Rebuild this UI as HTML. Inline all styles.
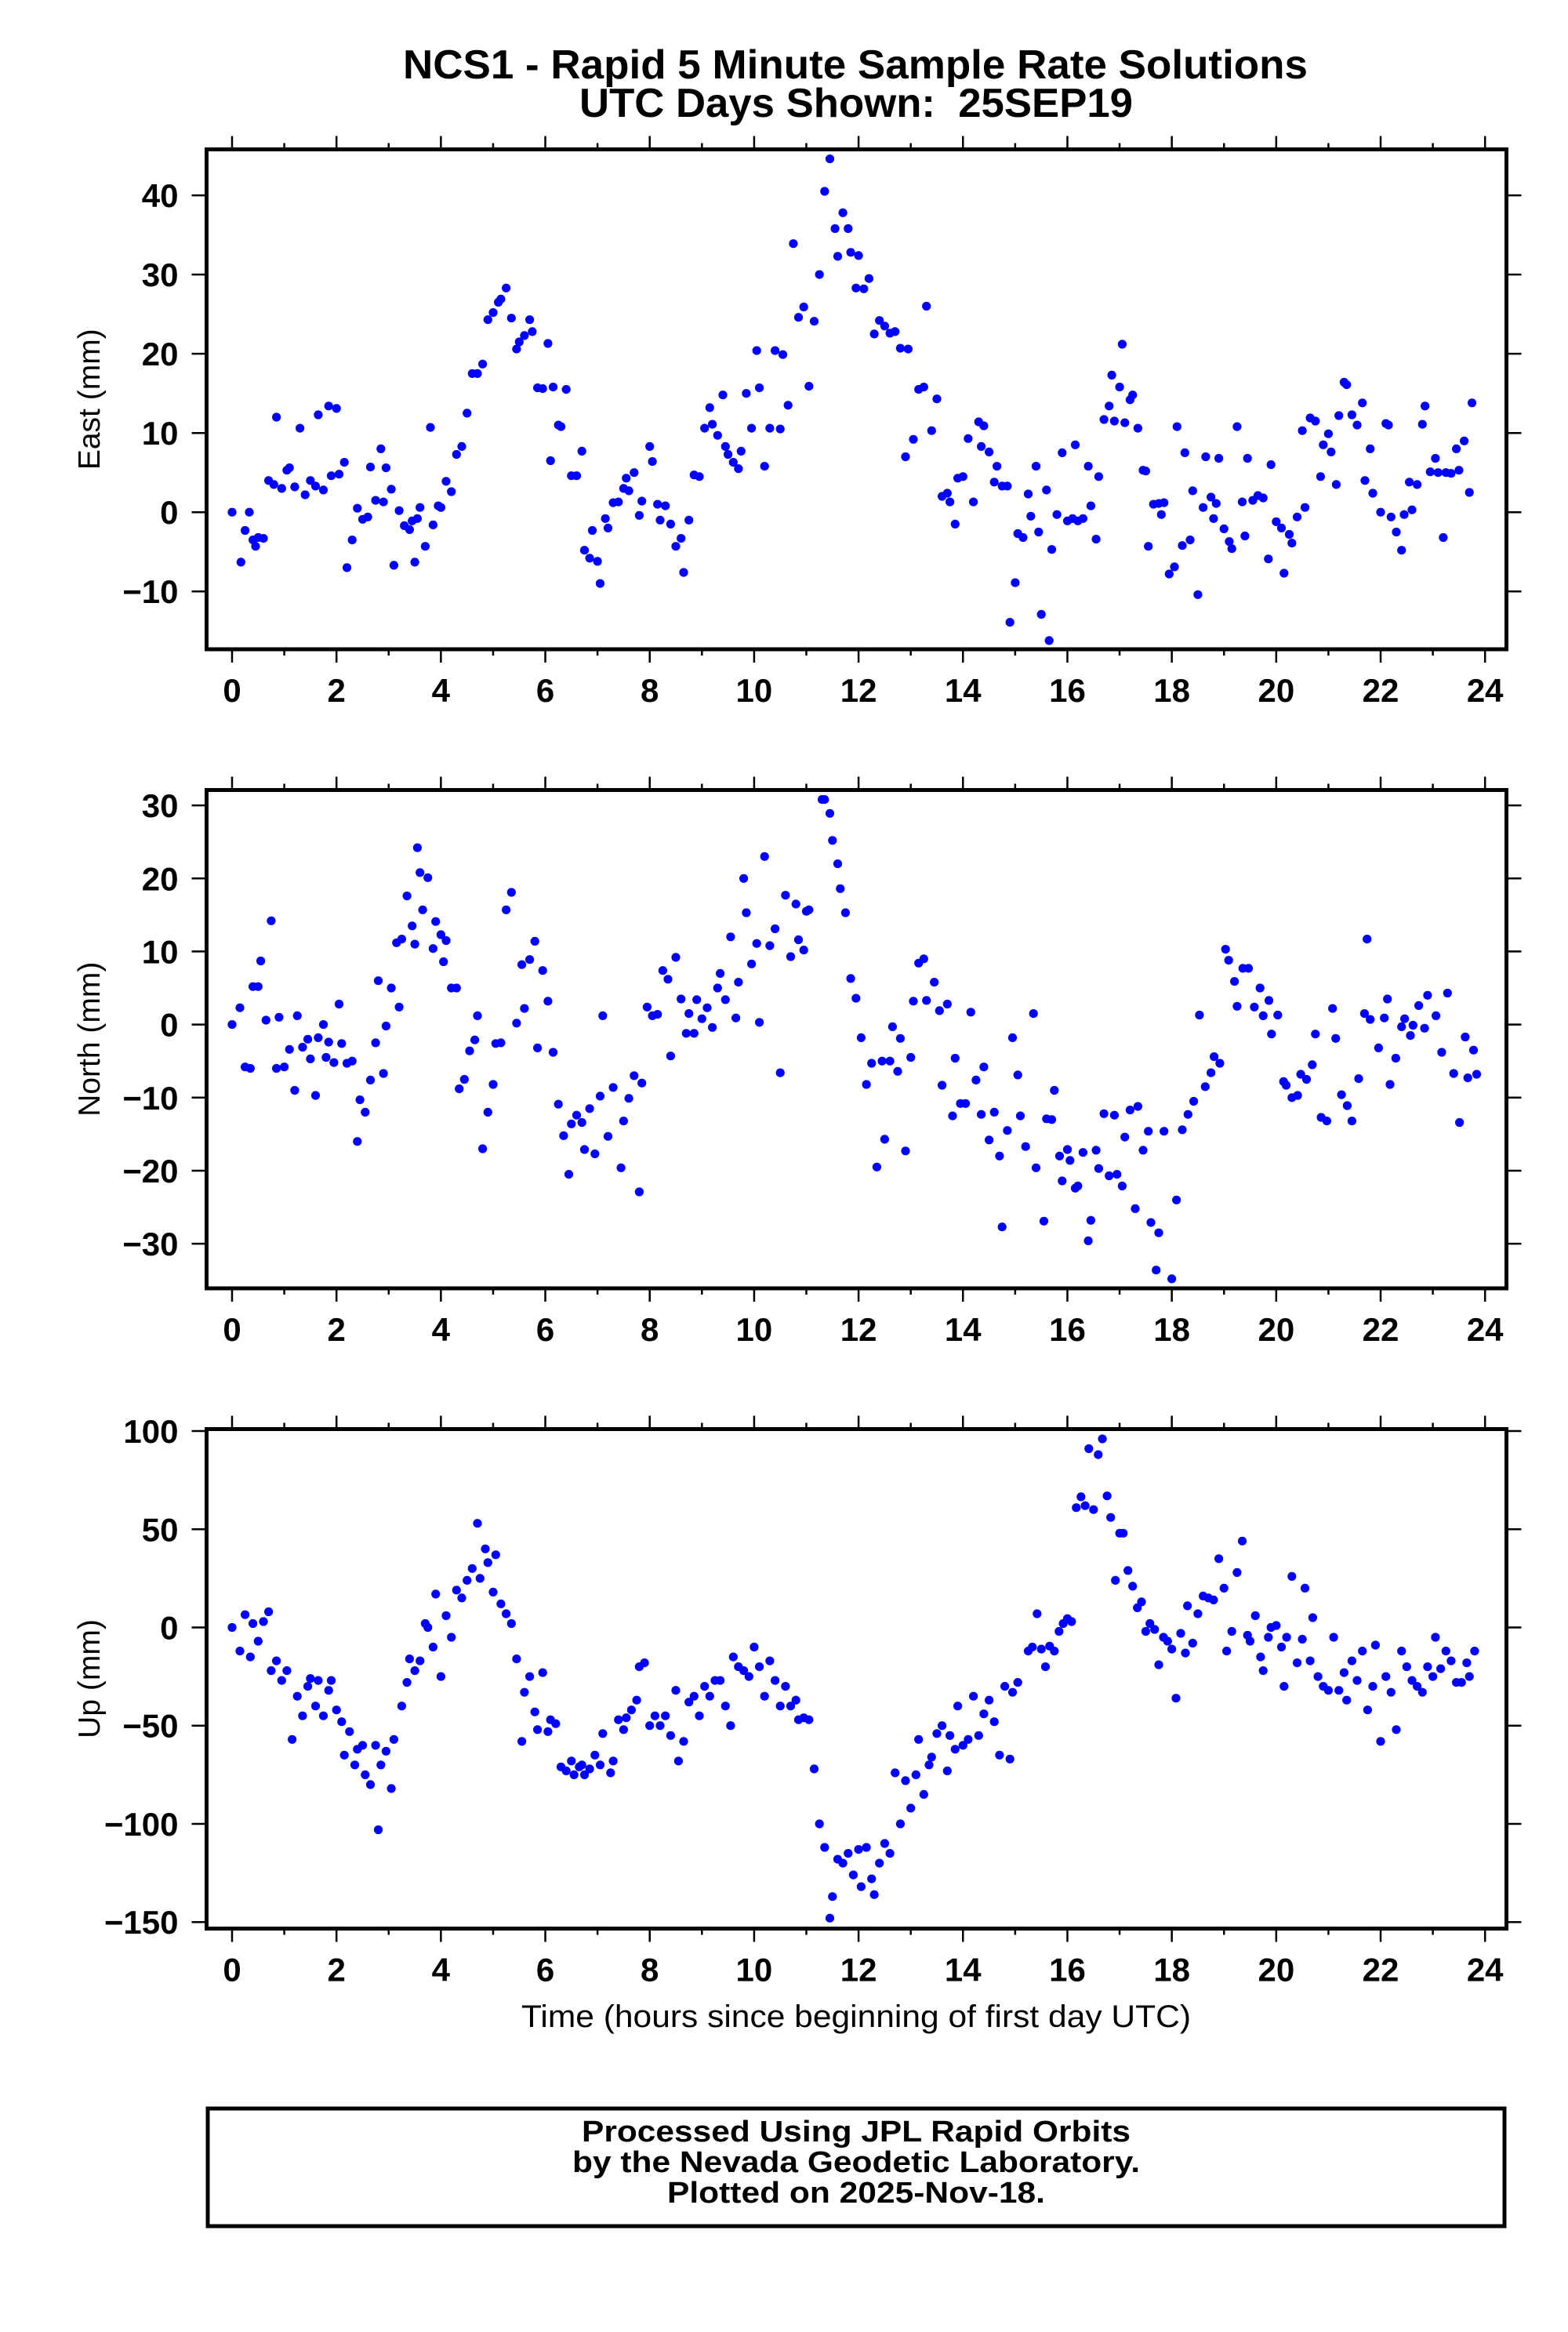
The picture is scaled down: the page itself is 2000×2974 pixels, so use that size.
<!DOCTYPE html>
<html><head><meta charset="utf-8"><style>
html,body{margin:0;padding:0;background:#fff;}
svg{display:block;}
text{font-family:"Liberation Sans",sans-serif;fill:#000;}
</style></head>
<body>
<svg id="chart" xmlns="http://www.w3.org/2000/svg" width="2000" height="2974" viewBox="0 0 2000 2974">
<text x="1091" y="100" text-anchor="middle" font-size="52" font-weight="bold" textLength="1154" lengthAdjust="spacingAndGlyphs">NCS1 - Rapid 5 Minute Sample Rate Solutions</text>
<text x="1092" y="149" text-anchor="middle" font-size="52" font-weight="bold" textLength="706" lengthAdjust="spacingAndGlyphs" xml:space="preserve">UTC Days Shown:  25SEP19</text>
<g id="panels"></g>
<text x="1092" y="2585" text-anchor="middle" font-size="40" textLength="854" lengthAdjust="spacingAndGlyphs">Time (hours since beginning of first day UTC)</text>
<rect x="265" y="2689" width="1654" height="150" fill="none" stroke="#000" stroke-width="5"/>
<text x="1092" y="2731" text-anchor="middle" font-size="38" font-weight="bold" textLength="700" lengthAdjust="spacingAndGlyphs">Processed Using JPL Rapid Orbits</text>
<text x="1092" y="2770" text-anchor="middle" font-size="38" font-weight="bold" textLength="724" lengthAdjust="spacingAndGlyphs">by the Nevada Geodetic Laboratory.</text>
<text x="1092" y="2809" text-anchor="middle" font-size="38" font-weight="bold" textLength="482" lengthAdjust="spacingAndGlyphs">Plotted on 2025-Nov-18.</text>
</svg>
<script>
const xTickLabels=[0,2,4,6,8,10,12,14,16,18,20,22,24];
const eastTicks=[40,30,20,10,0,-10];
const northTicks=[30,20,10,0,-10,-20,-30];
const upTicks=[100,50,0,-50,-100,-150];

const eastT=[0,0.17,0.25,0.33,0.4,0.45,0.5,0.6,0.7,0.8,0.85,0.95,1.05,1.1,1.2,1.3,1.4,1.5,1.6,1.65,1.75,1.85,1.9,2.0,2.05,2.15,2.2,2.3,2.4,2.5,2.6,2.65,2.75,2.85,2.9,2.95,3.05,3.1,3.2,3.3,3.4,3.45,3.5,3.55,3.6,3.7,3.8,3.85,3.95,4.0,4.1,4.2,4.3,4.4,4.5,4.6,4.7,4.8,4.9,5.0,5.1,5.15,5.25,5.35,5.45,5.5,5.6,5.7,5.75,5.85,5.95,6.05,6.1,6.15,6.25,6.3,6.4,6.5,6.6,6.7,6.75,6.85,6.9,7.0,7.05,7.15,7.2,7.3,7.4,7.5,7.55,7.6,7.7,7.8,7.85,8.0,8.05,8.15,8.2,8.3,8.4,8.5,8.6,8.65,8.75,8.85,8.95,9.05,9.15,9.2,9.3,9.4,9.45,9.5,9.6,9.7,9.75,9.85,9.95,10.05,10.1,10.2,10.3,10.4,10.5,10.55,10.65,10.75,10.85,10.95,11.05,11.15,11.25,11.35,11.45,11.55,11.6,11.7,11.8,11.85,11.95,12.0,12.1,12.2,12.3,12.4,12.5,12.6,12.7,12.8,12.9,12.95,13.05,13.15,13.25,13.3,13.4,13.5,13.6,13.7,13.75,13.85,13.9,14.0,14.1,14.2,14.3,14.35,14.4,14.5,14.6,14.65,14.75,14.85,14.9,15.0,15.05,15.15,15.25,15.3,15.4,15.45,15.5,15.6,15.65,15.7,15.8,15.9,16.0,16.1,16.15,16.2,16.3,16.4,16.45,16.55,16.6,16.7,16.8,16.85,16.9,17.0,17.05,17.1,17.2,17.25,17.35,17.45,17.5,17.55,17.65,17.75,17.8,17.85,17.95,18.05,18.1,18.2,18.25,18.35,18.4,18.5,18.6,18.65,18.75,18.8,18.85,18.9,19.0,19.1,19.15,19.25,19.35,19.4,19.45,19.55,19.65,19.75,19.85,19.9,20.0,20.1,20.15,20.25,20.3,20.4,20.5,20.55,20.65,20.75,20.85,20.9,21.0,21.05,21.15,21.2,21.3,21.35,21.45,21.55,21.65,21.7,21.8,21.85,22.0,22.1,22.15,22.2,22.3,22.4,22.45,22.55,22.6,22.7,22.8,22.85,22.95,23.05,23.1,23.2,23.25,23.35,23.45,23.5,23.6,23.7,23.75];
const eastV=[0,-6.3,-2.3,0,-3.5,-4.3,-3.2,-3.3,4,3.5,12,3,5.3,5.6,3.2,10.6,2.2,4,3.3,12.3,2.8,13.4,4.6,13.1,4.8,6.3,-7,-3.5,0.5,-0.9,-0.6,5.7,1.5,8,1.3,5.6,2.9,-6.7,0.2,-1.7,-2.2,-1.1,-6.3,-0.8,0.6,-4.3,10.7,-1.6,0.8,0.6,3.9,2.6,7.3,8.3,12.5,17.5,17.5,18.7,24.3,25.2,26.5,26.9,28.3,24.5,20.6,21.5,22.3,24.3,22.8,15.7,15.6,21.3,6.5,15.8,11,10.8,15.5,4.6,4.6,7.7,-4.8,-5.8,-2.3,-6.2,-9,-0.8,-2,1.2,1.3,3,4.3,2.7,5,-0.4,1.4,8.3,6.4,1,-1,0.8,-1.5,-4.3,-3.3,-7.6,-1,4.7,4.5,10.6,13.2,11.1,9.7,14.8,8.3,7.3,6.3,5.5,7.7,15,10.6,20.4,15.7,5.8,10.6,20.4,10.5,19.9,13.5,33.9,24.6,25.9,15.9,24.1,30,40.5,44.6,35.8,32.3,37.8,35.8,32.8,28.3,32.4,28.2,29.5,22.5,24.2,23.5,22.6,22.8,20.7,7,20.6,9.2,15.5,15.8,26,10.3,14.3,2,2.4,1.3,-1.5,4.3,4.5,9.3,1.3,11.4,8.3,10.9,7.6,3.8,5.8,3.3,3.3,-13.9,-8.9,-2.7,-3.2,2.3,-0.5,5.8,-2.5,-12.9,2.8,-16.2,-4.7,-0.3,7.5,-1.1,-0.8,8.5,-1.1,-0.8,5.8,0.8,-3.4,4.5,11.7,13.4,17.3,11.5,15.8,21.2,11.3,14.2,14.8,10.6,5.3,5.2,-4.3,1,1.1,-0.3,1.2,-7.8,-6.9,10.8,-4.2,7.5,-3.5,2.7,-10.4,0.6,7,1.9,-0.8,1.1,6.8,-2.1,-3.7,-4.6,10.8,1.3,-3,6.8,1.5,2.1,1.8,-5.9,6,-1.2,-2,-7.7,-2.8,-3.9,-0.6,10.3,0.6,11.9,11.5,4.5,8.5,9.9,7.6,3.5,12.2,16.4,16.1,12.3,11,13.8,4,8,2.4,0,11.2,11,-0.6,-2.5,-4.8,-0.3,3.8,0.3,3.5,11.1,13.4,5.1,6.8,5,-3.2,5,4.9,8,5.3,9,2.5,13.8];

const northT=[0,0.15,0.25,0.35,0.4,0.5,0.55,0.65,0.75,0.85,0.9,1.0,1.1,1.2,1.25,1.35,1.45,1.5,1.6,1.65,1.75,1.8,1.85,1.95,2.05,2.1,2.2,2.3,2.4,2.45,2.55,2.65,2.75,2.8,2.9,2.95,3.05,3.15,3.2,3.25,3.35,3.45,3.5,3.55,3.6,3.65,3.75,3.85,3.9,4.0,4.05,4.1,4.2,4.3,4.35,4.45,4.55,4.65,4.7,4.8,4.9,5.0,5.05,5.15,5.25,5.35,5.45,5.55,5.6,5.7,5.8,5.85,5.95,6.05,6.15,6.25,6.35,6.45,6.5,6.6,6.7,6.75,6.85,6.95,7.05,7.1,7.2,7.3,7.45,7.5,7.6,7.7,7.8,7.85,7.95,8.05,8.15,8.25,8.35,8.4,8.5,8.6,8.7,8.75,8.85,8.9,9.0,9.1,9.2,9.3,9.35,9.45,9.55,9.65,9.7,9.8,9.85,9.95,10.05,10.1,10.2,10.3,10.4,10.5,10.6,10.7,10.8,10.85,10.95,11.0,11.05,11.3,11.35,11.45,11.5,11.6,11.65,11.75,11.85,11.95,12.05,12.15,12.25,12.35,12.45,12.5,12.6,12.65,12.75,12.8,12.9,13.0,13.05,13.15,13.25,13.3,13.45,13.55,13.6,13.7,13.8,13.85,13.95,14.05,14.15,14.25,14.35,14.4,14.5,14.6,14.7,14.75,14.85,14.95,15.05,15.1,15.2,15.35,15.4,15.55,15.6,15.7,15.75,15.85,15.9,16.0,16.05,16.15,16.2,16.3,16.4,16.45,16.55,16.6,16.7,16.8,16.9,16.95,17.05,17.1,17.2,17.3,17.35,17.45,17.55,17.6,17.7,17.75,17.85,18.0,18.09,18.2,18.31,18.42,18.53,18.64,18.75,18.81,18.92,19.03,19.09,19.2,19.25,19.36,19.47,19.58,19.69,19.75,19.86,19.91,20.03,20.14,20.19,20.3,20.41,20.47,20.58,20.69,20.75,20.86,20.97,21.08,21.14,21.25,21.36,21.45,21.58,21.69,21.74,21.8,21.96,22.07,22.13,22.18,22.29,22.4,22.46,22.57,22.62,22.73,22.84,22.9,23.06,23.17,23.28,23.4,23.51,23.62,23.67,23.78,23.84];
const northV=[0,2.3,-5.8,-6,5.2,5.2,8.7,0.6,14.2,-6,1,-5.8,-3.4,-9,1.2,-3.1,-2,-4.7,-9.7,-1.8,0,-4.5,-2.4,-5.2,2.8,-2.6,-5.3,-5,-16,-10.3,-12,-7.6,-2.5,6,-6.7,-0.2,5,11.2,2.4,11.7,17.6,13.5,11,24.2,20.8,15.7,20.1,10.4,14.1,12.3,8.6,11.5,5,5,-8.8,-7.5,-3.6,-2.1,1.2,-17,-12,-8.2,-2.6,-2.5,15.7,18.1,0.2,8.2,2.2,8.9,11.4,-3.2,7.4,3.2,-3.8,-10.9,-15.2,-20.5,-13.6,-12.4,-13.4,-17.1,-11.5,-17.7,-9.8,1.2,-15.3,-8.6,-19.6,-13.2,-10.1,-7,-22.9,-8,2.4,1.2,1.4,7.4,6.2,-4.3,9.2,3.5,-1.2,1.5,-1.2,3.4,0.8,2.3,-0.4,5,7,3.4,12,0.9,5.8,20,15.3,8.3,11.1,0.3,23,10.8,13.1,-6.6,17.7,9.3,16.5,11.6,10.2,15.5,15.7,30.8,30.8,28.9,25.2,22,18.6,15.3,6.3,3.6,-1.8,-8.2,-5.3,-19.5,-5,-15.7,-5,-0.3,-6.4,-1.9,-17.3,-4.5,3.2,8.4,9,3.3,5.8,1.9,-8.3,2.8,-12.5,-4.6,-10.8,-10.8,1.7,-7.6,-12.3,-5.8,-15.8,-12,-18,-27.7,-14.5,-1.8,-6.9,-12.5,-16.7,1.5,-19.6,-26.9,-12.9,-13,-9,-18,-21.4,-17.1,-18.6,-22.4,-22.1,-17.5,-29.6,-26.8,-17.2,-19.7,-12.2,-20.7,-12.4,-20.5,-22.1,-15.4,-11.7,-25.2,-11.2,-17.2,-14.6,-27.1,-33.6,-28.5,-14.6,-34.8,-24,-14.4,-12.3,-10.5,1.3,-8.5,-6.6,-4.4,-5.3,10.3,8.8,5.9,2.5,7.7,7.7,2.4,5,1.2,3.3,-1.3,1.3,-7.8,-8.3,-10,-9.7,-6.8,-7.5,-5.5,-1.3,-12.7,-13.2,2.2,-1.9,-9.6,-11.1,-13.2,-7.4,1.5,11.7,0.7,-3.2,0.9,3.5,-8.2,-4.6,-0.3,0.8,-1.5,-0.1,2.6,-0.5,4,1.2,-3.8,4.3,-6.7,-13.4,-1.7,-7.3,-3.5,-6.8];

const upT=[0,0.15,0.25,0.35,0.4,0.5,0.6,0.7,0.75,0.85,0.95,1.05,1.15,1.25,1.35,1.45,1.5,1.6,1.65,1.75,1.85,1.9,2.0,2.1,2.15,2.25,2.35,2.4,2.5,2.55,2.65,2.75,2.8,2.85,2.95,3.05,3.1,3.25,3.35,3.4,3.5,3.6,3.7,3.75,3.85,3.9,4.0,4.1,4.2,4.3,4.4,4.5,4.6,4.7,4.75,4.85,4.9,5.0,5.05,5.15,5.25,5.35,5.45,5.55,5.6,5.7,5.8,5.85,5.95,6.05,6.1,6.2,6.3,6.4,6.5,6.55,6.65,6.7,6.75,6.85,6.95,7.05,7.1,7.25,7.3,7.4,7.5,7.55,7.65,7.75,7.8,7.9,8.0,8.1,8.2,8.3,8.4,8.5,8.55,8.65,8.75,8.85,8.95,9.05,9.15,9.25,9.35,9.45,9.55,9.6,9.7,9.8,9.9,10.0,10.1,10.2,10.3,10.4,10.5,10.6,10.7,10.8,10.85,10.95,11.05,11.15,11.25,11.35,11.45,11.5,11.6,11.7,11.8,11.9,12.0,12.05,12.15,12.25,12.3,12.4,12.5,12.6,12.7,12.8,12.9,13.0,13.1,13.15,13.25,13.35,13.4,13.5,13.6,13.7,13.75,13.85,13.9,14.0,14.1,14.2,14.3,14.4,14.5,14.6,14.7,14.8,14.9,14.95,15.05,15.25,15.33,15.42,15.5,15.58,15.66,15.75,15.84,15.92,16.0,16.08,16.17,16.26,16.34,16.41,16.5,16.59,16.67,16.76,16.83,16.92,17.0,17.07,17.16,17.25,17.34,17.42,17.5,17.58,17.67,17.75,17.84,17.92,18.0,18.08,18.17,18.26,18.3,18.4,18.5,18.6,18.7,18.8,18.9,19.0,19.05,19.15,19.25,19.35,19.45,19.5,19.6,19.7,19.75,19.85,19.9,20.0,20.1,20.15,20.2,20.3,20.4,20.5,20.55,20.65,20.7,20.8,20.9,21.0,21.1,21.2,21.3,21.35,21.45,21.55,21.65,21.75,21.85,21.9,22.0,22.1,22.2,22.3,22.4,22.5,22.6,22.7,22.8,22.9,23.0,23.05,23.15,23.25,23.35,23.45,23.55,23.65,23.7,23.8];
const upV=[0,-12,6.5,-15,2,-7,3,8,-22,-17,-27,-22,-57,-35,-45,-30,-26,-40,-27,-45,-32,-27,-42,-48,-65,-53,-70,-62,-60,-75,-80,-60,-103,-70,-63,-82,-57,-40,-28,-16,-22,-17,2,0,-10,17,-25,6,-5,19,15,24,30,53,25,40,33,18,37,12,7,2,-16,-58,-33,-25,-43,-52,-23,-53,-47,-49,-71,-73,-68,-75,-71,-70,-75,-72,-65,-70,-54,-74,-68,-47,-52,-46,-42,-37,-20,-18,-50,-45,-50,-45,-55,-32,-68,-58,-38,-35,-45,-30,-35,-27,-27,-40,-50,-15,-20,-22,-25,-10,-20,-35,-17,-27,-40,-30,-40,-37,-47,-46,-47,-72,-100,-112,-148,-137,-118,-120,-115,-126,-113,-132,-112,-128,-136,-120,-110,-115,-74,-100,-78,-92,-75,-57,-85,-70,-66,-54,-50,-73,-55,-62,-40,-60,-57,-35,-55,-44,-37,-48,-65,-30,-67,-33,-28,-12,-10,7,-11,-20,-9.5,-12,-2,2,4.5,3,61,66.5,62,91,60,88,96,67,56,24,48,48,29,21,10,13,-2,2,-1,-19,-5,-7,-11,-36,-3,-13,11,-8,7,16,15,14,35,20,-12,-2,28,44,-4,-7,6,-15,-22,-5,0,1,-10,-30,-5,26,-18,-6,20,-17,5,-25,-30,-32,-5,-32,-23,-37,-17,-27,-12,-42,-30,-9,-58,-25,-33,-52,-12,-20,-27,-30,-33,-20,-25,-5,-21,-12,-17,-28,-28,-18,-25,-12];

const NS='http://www.w3.org/2000/svg';
const root=document.getElementById('panels');
const X0=263.5,X1=1921.5,H0=-0.488,H1=24.41;
function xScale(h){return X0+(h-H0)/(H1-H0)*(X1-X0);}
function mk(tag,attrs,parent){const e=document.createElementNS(NS,tag);for(const k in attrs)e.setAttribute(k,attrs[k]);parent.appendChild(e);return e;}
function fmt(v){return v<0?'\u2212'+Math.abs(v):String(v);}

function drawPanel(key,label,top,bottom,ymin,ymax,yTicks,T,V){
  const g=mk('g',{},root);
  
  
  const yScale=v=>bottom-(v-ymin)/(ymax-ymin)*(bottom-top);
  const pts=mk('g',{fill:'#0000ff'},g);
  
  
  for(let i=0;i<T.length;i++){
    const c=mk('circle',{cx:xScale(T[i]).toFixed(1),cy:yScale(V[i]).toFixed(1),r:5.6},pts);
    
    
  }
  const ax=mk('g',{stroke:'#000','stroke-width':2.5},g);
  
  
  for(const v of yTicks){
    const y=yScale(v);
    mk('line',{x1:X0-19,x2:X0,y1:y,y2:y},ax);
    mk('line',{x1:X1,x2:X1+19,y1:y,y2:y},ax);
    const t=mk('text',{x:X0-36,y:y+15,'text-anchor':'end','font-size':42,'font-weight':'bold',stroke:'none'},g);
    t.textContent=fmt(v);
    
    
  }
  for(let h=0;h<=24;h++){
    const x=xScale(h);const L=(h%2===0)?17:8;
    mk('line',{x1:x,x2:x,y1:top-L,y2:top},ax);
    mk('line',{x1:x,x2:x,y1:bottom,y2:bottom+L},ax);
  }
  for(const h of xTickLabels){
    const t=mk('text',{x:xScale(h),y:bottom+67,'text-anchor':'middle','font-size':42,'font-weight':'bold'},g);
    t.textContent=String(h);
    
    
  }
  const fr=mk('rect',{x:X0,y:top,width:X1-X0,height:bottom-top,fill:'none',stroke:'#000','stroke-width':5},g);
  
  
  const cy=(top+bottom)/2;
  const yl=mk('text',{x:0,y:0,transform:`translate(127,${cy}) rotate(-90)`,'text-anchor':'middle','font-size':39},g);
  yl.textContent=label;
  
  
}
drawPanel('east','East (mm)',190.5,828,-17.3,45.8,eastTicks,eastT,eastV);
drawPanel('north','North (mm)',1007.5,1643,-36.1,32.1,northTicks,northT,northV);
drawPanel('up','Up (mm)',1822.5,2459.5,-153.3,101.0,upTicks,upT,upV);
</script>
</body></html>
